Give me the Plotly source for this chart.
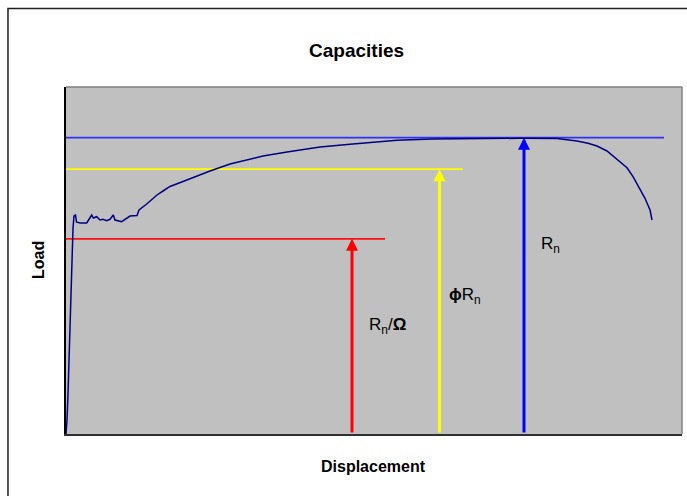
import plotly.graph_objects as go

# Load-displacement curve (arbitrary units)
displacement = [0, 0.16, 0.32, 0.49, 0.65, 0.76, 0.89, 0.97, 1.14, 1.30, 1.54, 1.70, 2.27, 3.36,
                3.73, 4.17, 4.43, 4.98, 5.52, 6.01, 6.61, 7.14, 7.68, 7.95, 9.04, 9.58, 10.39,
                11.53, 11.85, 13.10, 13.96, 14.77, 15.75, 16.88, 18.99, 21.27, 23.38, 26.62,
                29.38, 31.98, 35.88, 39.12, 41.23, 46.10, 49.35, 53.73, 59.42, 65.58, 73.70,
                79.71, 82.95, 84.74, 86.20, 87.82, 89.45, 91.07, 92.05, 93.18, 93.99, 94.81, 95.13]
load = [0, 4.03, 11.24, 20.46, 29.97, 37.75, 40.92, 51.59, 59.37, 62.82, 63.11, 61.10, 60.81, 60.81,
        61.96, 63.11, 62.25, 62.62, 61.67, 61.87, 61.47, 61.87, 63.11, 61.67, 61.18, 61.87, 62.82,
        62.97, 64.55, 66.28, 67.72, 68.88, 70.03, 71.33, 72.77, 74.35, 75.79, 77.81,
        78.96, 80.12, 81.27, 82.13, 82.71, 83.49, 84.06, 84.64, 85.01, 85.16, 85.22,
        85.16, 84.44, 83.78, 83.00, 81.56, 79.16, 76.74, 74.15, 70.32, 67.93, 64.55, 61.67]

# Capacity levels
cap_names = ["Rn/Omega", "phiRn", "Rn"]
cap_levels = [56.25, 76.31, 85.39]
cap_line_end = [51.79, 64.40, 97.08]
cap_arrow_x = [46.43, 60.63, 74.35]
cap_colors = ["#FF0000", "#FFFF00", "#0000FF"]
cap_line_colors = ["#FF1010", "#FFFF00", "#3030F5"]

# Label texts and positions
label_texts = ["R<sub>n</sub>/<b>Ω</b>", "<b>ϕ</b>R<sub>n</sub>", "R<sub>n</sub>"]
label_x = [52.27, 64.85, 78.73]
label_y = [31.12, 39.63, 54.47]

x_range = [0, 100]
y_range = [0, 100]

fig = go.Figure()

for lvl, xe, col in zip(cap_levels, cap_line_end, cap_line_colors):
    fig.add_trace(go.Scatter(x=[0, xe], y=[lvl, lvl], mode="lines",
                             line=dict(color=col, width=1.8), hoverinfo="skip"))

fig.add_trace(go.Scatter(x=displacement, y=load, mode="lines",
                         line=dict(color="#000080", width=1.5), hoverinfo="skip"))

annotations = []
for ax_, lvl, col in zip(cap_arrow_x, cap_levels, cap_colors):
    annotations.append(dict(x=ax_, y=lvl, ax=ax_, ay=0, xref="x", yref="y",
                            axref="x", ayref="y", text="", showarrow=True,
                            arrowhead=2, arrowsize=0.8, arrowwidth=3,
                            arrowcolor=col, standoff=0))

for t, lx, ly in zip(label_texts, label_x, label_y):
    annotations.append(dict(x=lx, y=ly, xref="x", yref="y", text=t, showarrow=False,
                            font=dict(family="Liberation Sans, Arial", size=17, color="black"),
                            xanchor="center", yanchor="middle"))

annotations.append(dict(x=0.4708, y=1.1066, xref="paper", yref="paper", text="<b>Capacities</b>",
                        showarrow=False, xanchor="center", yanchor="middle",
                        font=dict(family="Liberation Sans, Arial", size=19, color="black")))
annotations.append(dict(x=0.4984, y=-0.0951, xref="paper", yref="paper", text="<b>Displacement</b>",
                        showarrow=False, xanchor="center", yanchor="middle",
                        font=dict(family="Liberation Sans, Arial", size=16, color="black")))
annotations.append(dict(x=-0.0455, y=0.5014, xref="paper", yref="paper", text="<b>Load</b>",
                        showarrow=False, xanchor="center", yanchor="middle", textangle=-90,
                        font=dict(family="Liberation Sans, Arial", size=16, color="black")))

shapes = [
    # outer chart frame
    dict(type="rect", xref="paper", yref="paper", x0=-0.0942, x1=1.3, y0=-0.6, y1=1.2262,
         line=dict(color="#202020", width=1.5), fillcolor="rgba(0,0,0,0)", layer="below"),
    # plot-area top and right border
    dict(type="line", xref="paper", yref="paper", x0=0, x1=1, y0=1, y1=1,
         line=dict(color="#808080", width=1.5)),
    dict(type="line", xref="paper", yref="paper", x0=1, x1=1, y0=0, y1=1,
         line=dict(color="#808080", width=1.5)),
]

fig.update_layout(
    width=687, height=496,
    margin=dict(l=66, r=5, t=87, b=62),
    paper_bgcolor="white", plot_bgcolor="#C0C0C0",
    showlegend=False, hovermode=False,
    annotations=annotations, shapes=shapes,
    xaxis=dict(range=x_range, showgrid=False, zeroline=False, showticklabels=False,
               ticks="", showline=True, linecolor="#303030", linewidth=2, fixedrange=True),
    yaxis=dict(range=y_range, showgrid=False, zeroline=False, showticklabels=False,
               ticks="", showline=True, linecolor="black", linewidth=2, fixedrange=True),
)

fig.write_html("out.html", config={"displayModeBar": False},
               post_script="document.body.style.margin='0px';document.body.style.overflow='hidden';")
